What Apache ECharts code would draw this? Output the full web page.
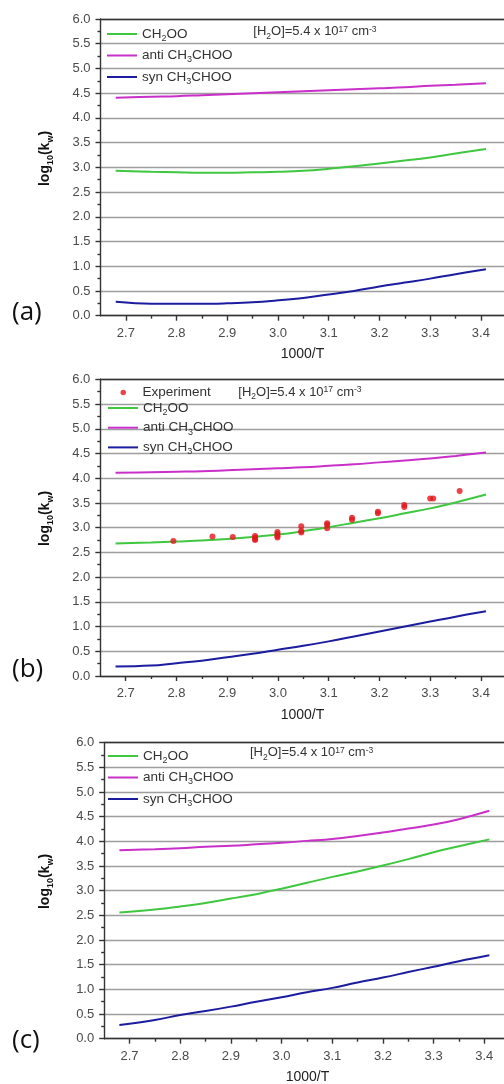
<!DOCTYPE html>
<html>
<head>
<meta charset="utf-8">
<script src="https://cdn.jsdelivr.net/npm/echarts@6/dist/echarts.min.js"></script>
<style>
  html, body { margin: 0; padding: 0; background: #fff; }
  #chart { width: 504px; height: 1084px; }
</style>
</head>
<body>
<div id="chart"></div>
<script>
// 1000/T grid shared by all model curves
const invT = [2.68, 2.75, 2.80, 2.85, 2.90, 2.95, 3.00, 3.05, 3.10, 3.15, 3.20, 3.25, 3.30, 3.35, 3.41];

// Panel (a): log10(kw)
const ch2ooA = [2.93, 2.91, 2.90, 2.89, 2.89, 2.90, 2.91, 2.93, 2.97, 3.02, 3.08, 3.14, 3.20, 3.28, 3.37];
const antiA  = [4.41, 4.43, 4.44, 4.46, 4.48, 4.50, 4.52, 4.54, 4.56, 4.58, 4.60, 4.62, 4.65, 4.67, 4.70];
const synA   = [0.28, 0.24, 0.24, 0.24, 0.25, 0.27, 0.31, 0.36, 0.43, 0.50, 0.59, 0.67, 0.75, 0.84, 0.94];

// Panel (b): log10(kw)
const ch2ooB = [2.68, 2.70, 2.72, 2.74, 2.77, 2.81, 2.86, 2.93, 3.01, 3.10, 3.19, 3.29, 3.39, 3.51, 3.67];
const antiB  = [4.11, 4.12, 4.13, 4.14, 4.16, 4.18, 4.20, 4.22, 4.25, 4.28, 4.32, 4.36, 4.40, 4.45, 4.52];
const synB   = [0.19, 0.21, 0.26, 0.31, 0.38, 0.45, 0.53, 0.61, 0.70, 0.80, 0.90, 1.00, 1.10, 1.20, 1.31];

// Panel (b): measured points
const expX = [2.794, 2.871, 2.911, 2.955, 2.955, 2.955, 2.955, 2.999, 2.999, 2.999, 2.999, 3.046, 3.046, 3.046,
              3.097, 3.097, 3.097, 3.146, 3.146, 3.197, 3.197, 3.249, 3.249, 3.300, 3.306, 3.358];
const expY = [2.73, 2.82, 2.81, 2.83, 2.80, 2.77, 2.75, 2.91, 2.87, 2.83, 2.80, 3.03, 2.93, 2.90,
              3.09, 3.06, 2.99, 3.20, 3.16, 3.32, 3.29, 3.46, 3.42, 3.59, 3.59, 3.74];

// Panel (c): log10(kw)
const ch2ooC = [2.56, 2.62, 2.68, 2.75, 2.84, 2.93, 3.04, 3.16, 3.28, 3.39, 3.51, 3.64, 3.78, 3.90, 4.04];
const antiC  = [3.82, 3.84, 3.86, 3.89, 3.91, 3.94, 3.97, 4.01, 4.05, 4.11, 4.18, 4.26, 4.34, 4.45, 4.62];
const synC   = [0.28, 0.38, 0.48, 0.56, 0.65, 0.75, 0.84, 0.94, 1.03, 1.14, 1.24, 1.35, 1.46, 1.57, 1.69];

// Axis ticks
const xTicks = [2.7, 2.8, 2.9, 3.0, 3.1, 3.2, 3.3, 3.4];
const xMinorTicks = [2.75, 2.85, 2.95, 3.05, 3.15, 3.25, 3.35];
const xRange = [2.65, 3.45];
const yRange = [0, 6];
const yStep = 0.5;

// Series names and their rich-text labels
const names = ['CH2OO', 'anti CH3CHOO', 'syn CH3CHOO'];
const expName = 'Experiment';
const richNames = {
  'CH2OO': '{m|CH}{s|2}{m|OO}',
  'anti CH3CHOO': '{m|anti CH}{s|3}{m|CHOO}',
  'syn CH3CHOO': '{m|syn CH}{s|3}{m|CHOO}',
  'Experiment': '{e|Experiment}'
};
const colors = { 'CH2OO': '#3fc73f', 'anti CH3CHOO': '#c92fc9', 'syn CH3CHOO': '#1c1ca0', 'Experiment': '#e3161b' };

const FONT = '"Liberation Sans", Arial, sans-serif';
const TEXT = '#333';

const legendRich = {
  m: { fontSize: 13.5, fontFamily: FONT, color: TEXT, lineHeight: 14, verticalAlign: 'top' },
  s: { fontSize: 9, fontFamily: FONT, color: TEXT, lineHeight: 9, verticalAlign: 'top', padding: [7, 0, 0, 0] },
  e: { fontSize: 13.5, fontFamily: FONT, color: TEXT, lineHeight: 14, verticalAlign: 'top', padding: [0, 0, 0, 11.5] }
};
const noteRich = {
  m: { fontSize: 13, fontFamily: FONT, fill: TEXT, lineHeight: 14, verticalAlign: 'top' },
  s: { fontSize: 8.5, fontFamily: FONT, fill: TEXT, lineHeight: 9, verticalAlign: 'top', padding: [7, 0, 0, 0] },
  p: { fontSize: 8.5, fontFamily: FONT, fill: TEXT, lineHeight: 9, verticalAlign: 'top', padding: [0, 0, 0, 0] }
};
const titleRich = {
  b: { fontSize: 14, fontFamily: FONT, fontWeight: 'bold', fill: '#111', lineHeight: 15, verticalAlign: 'top' },
  bs: { fontSize: 9, fontFamily: FONT, fontWeight: 'bold', fill: '#111', lineHeight: 9, verticalAlign: 'top', padding: [8, 0, 0, 0] }
};

// Layout of the three stacked panels
const panels = [
  { tag: '(a)', left: 100.5, top: 19,    width: 405.7, height: 296.7, curves: [ch2ooA, antiA, synA],
    legendTop: 27, legendGap: 5.5, noteX: 253.3, noteY: 25, tagY: 313, titleX: 302.5, titleY: 354, yTitleY: 158.5 },
  { tag: '(b)', left: 100.3, top: 379.3, width: 406,   height: 296.7, curves: [ch2ooB, antiB, synB],
    legendTop: 401, legendGap: 3.7, noteX: 238.3, noteY: 385.5, tagY: 670, titleX: 302.5, titleY: 715, yTitleY: 518.5,
    expLegendTop: 385.5 },
  { tag: '(c)', left: 104.2, top: 742.7, width: 405.4, height: 296,   curves: [ch2ooC, antiC, synC],
    legendTop: 749, legendGap: 5.5, noteX: 250, noteY: 746, tagY: 1041, titleX: 307.5, titleY: 1077, yTitleY: 881.5 }
];

const axisLineStyle = { color: '#333', width: 1.4 };
const labelStyle = { color: '#4a4a4a', fontSize: 13, fontFamily: FONT };

const grid = [], xAxis = [], yAxis = [], series = [], legend = [], graphic = [];

panels.forEach((p, i) => {
  grid.push({ left: p.left, top: p.top, width: p.width, height: p.height, containLabel: false, outerBoundsMode: 'none' });

  // bottom axis: major ticks and labels
  xAxis.push({
    gridIndex: i, type: 'value', min: xRange[0], max: xRange[1], position: 'bottom',
    axisLine: { show: true, onZero: false, lineStyle: axisLineStyle },
    axisTick: { show: true, customValues: xTicks, length: 5, lineStyle: axisLineStyle },
    axisLabel: { show: true, customValues: xTicks, margin: 11, formatter: v => v.toFixed(1), ...labelStyle },
    splitLine: { show: false }
  });
  // bottom axis: minor ticks
  xAxis.push({
    gridIndex: i, type: 'value', min: xRange[0], max: xRange[1], position: 'bottom',
    axisLine: { show: false, onZero: false },
    axisTick: { show: true, customValues: xMinorTicks, length: 3, lineStyle: axisLineStyle },
    axisLabel: { show: false }, splitLine: { show: false }
  });
  // top frame line
  xAxis.push({
    gridIndex: i, type: 'value', min: xRange[0], max: xRange[1], position: 'top',
    axisLine: { show: true, onZero: false, lineStyle: axisLineStyle },
    axisTick: { show: false }, axisLabel: { show: false }, splitLine: { show: false }
  });

  yAxis.push({
    gridIndex: i, type: 'value', min: yRange[0], max: yRange[1], interval: yStep,
    axisLine: { show: true, onZero: false, lineStyle: axisLineStyle },
    axisTick: { show: true, inside: false, length: 5, lineStyle: axisLineStyle },
    minorTick: { show: true, splitNumber: 2, length: 3, lineStyle: axisLineStyle },
    axisLabel: { margin: 10, formatter: v => v.toFixed(1), ...labelStyle },
    splitLine: { show: true, lineStyle: { color: '#9d9d9d', width: 1.4 } }
  });

  if (i === 1) {
    series.push({
      name: expName, type: 'scatter', xAxisIndex: 3 * i, yAxisIndex: i,
      data: expX.map((x, k) => [x, expY[k]]),
      symbol: 'circle', symbolSize: 6,
      itemStyle: { color: colors[expName] }, z: 5
    });
    legend.push({
      data: [expName], orient: 'vertical', left: 120.5, top: p.expLegendTop, padding: 0,
      itemWidth: 5.5, itemHeight: 5.5, icon: 'circle', selectedMode: false,
      formatter: n => richNames[n], textStyle: { rich: legendRich }
    });
  }

  names.forEach((n, k) => {
    series.push({
      name: n, type: 'line', xAxisIndex: 3 * i, yAxisIndex: i,
      data: invT.map((x, j) => [x, p.curves[k][j]]),
      smooth: 0.4, symbol: 'none', showSymbol: false,
      lineStyle: { color: colors[n], width: 2 }, itemStyle: { color: colors[n] }, z: 3
    });
  });

  legend.push({
    data: names, orient: 'vertical', left: i === 0 ? 107 : 108, top: p.legendTop, padding: 0,
    itemWidth: 30, itemHeight: 2, icon: 'rect', itemGap: p.legendGap, selectedMode: false,
    formatter: n => richNames[n], textStyle: { rich: legendRich }
  });

  // water concentration note
  graphic.push({
    type: 'text', left: p.noteX, top: p.noteY,
    style: { text: '{m|[H}{s|2}{m|O]=5.4 x 10}{p|17}{m| cm}{p|-3}', rich: noteRich }
  });
  // panel tag
  graphic.push({
    type: 'text', x: 12, y: p.tagY,
    style: { text: p.tag, font: '26px "Open Sans", sans-serif', fill: '#111',
             align: 'left', verticalAlign: 'middle', textAlign: 'left', textVerticalAlign: 'middle' }
  });
  // x axis title
  graphic.push({
    type: 'text', x: p.titleX, y: p.titleY,
    style: { text: '1000/T', font: '14px ' + FONT, fill: '#222',
             align: 'center', verticalAlign: 'middle', textAlign: 'center', textVerticalAlign: 'middle' }
  });
  // y axis title
  graphic.push({
    type: 'text', x: 46, y: p.yTitleY, rotation: Math.PI / 2,
    style: { text: '{b|log}{bs|10}{b|(k}{bs|w}{b|)}', rich: titleRich,
             align: 'center', verticalAlign: 'middle', textAlign: 'center', textVerticalAlign: 'middle' }
  });
});

const chart = echarts.init(document.getElementById('chart'), null, { renderer: 'canvas' });
chart.setOption({
  animation: false,
  backgroundColor: '#fff',
  grid, xAxis, yAxis, series, legend, graphic
});
</script>
</body>
</html>
